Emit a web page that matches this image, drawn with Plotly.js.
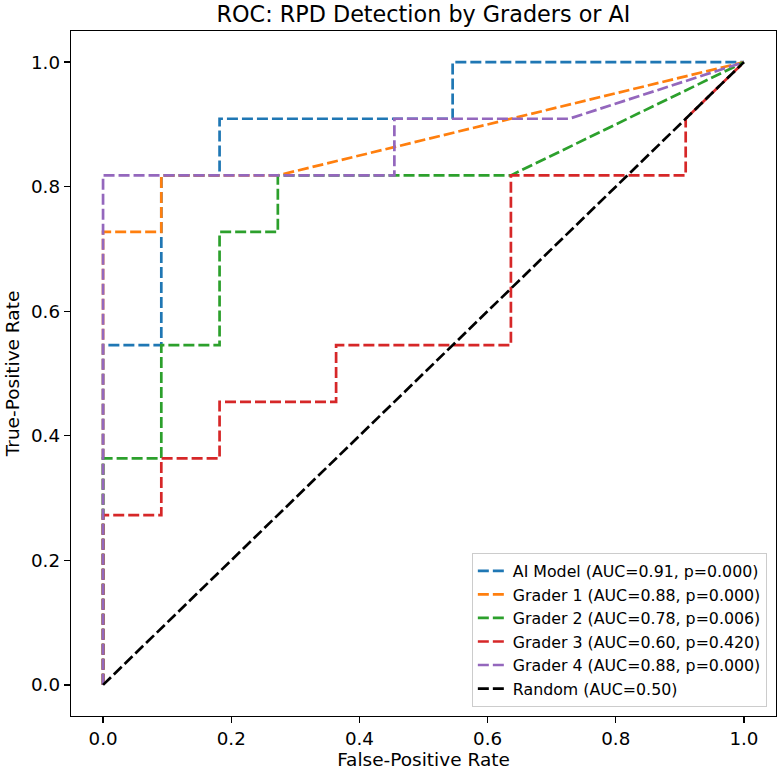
<!DOCTYPE html>
<html>
<head>
<meta charset="utf-8">
<script src="https://cdn.plot.ly/plotly-3.0.1.min.js"></script>
<style>html,body{margin:0;padding:0;background:#fff;}#chart{width:778px;height:771px;}</style>
</head>
<body>
<div id="chart"></div>
<script>
const k = 1 / 11;
const seriesNames = [
  "AI Model (AUC=0.91, p=0.000)",
  "Grader 1 (AUC=0.88, p=0.000)",
  "Grader 2 (AUC=0.78, p=0.006)",
  "Grader 3 (AUC=0.60, p=0.420)",
  "Grader 4 (AUC=0.88, p=0.000)",
  "Random (AUC=0.50)"
];
const seriesColors = ["#1f77b4", "#ff7f0e", "#2ca02c", "#d62728", "#9467bd", "#000000"];

// ROC points (false-positive rate, true-positive rate); 11 negatives, 11 positives
const aiFpr = [0, 0, 1*k, 1*k, 2*k, 2*k, 6*k, 6*k, 1];
const aiTpr = [0, 6*k, 6*k, 9*k, 9*k, 10*k, 10*k, 1, 1];

const g1Fpr = [0, 0, 1*k, 1*k, 3*k, 1];
const g1Tpr = [0, 8*k, 8*k, 9*k, 9*k, 1];

const g2Fpr = [0, 0, 1*k, 1*k, 2*k, 2*k, 3*k, 3*k, 7*k, 1];
const g2Tpr = [0, 4*k, 4*k, 6*k, 6*k, 8*k, 8*k, 9*k, 9*k, 1];

const g3Fpr = [0, 0, 1*k, 1*k, 2*k, 2*k, 4*k, 4*k, 7*k, 7*k, 10*k, 10*k, 1];
const g3Tpr = [0, 3*k, 3*k, 4*k, 4*k, 5*k, 5*k, 6*k, 6*k, 9*k, 9*k, 10*k, 1];

const g4Fpr = [0, 0, 5*k, 5*k, 8*k, 1];
const g4Tpr = [0, 9*k, 9*k, 10*k, 10*k, 1];

const randFpr = [0, 1];
const randTpr = [0, 1];

const xs = [aiFpr, g1Fpr, g2Fpr, g3Fpr, g4Fpr, randFpr];
const ys = [aiTpr, g1Tpr, g2Tpr, g3Tpr, g4Tpr, randTpr];

const font = "DejaVu Sans, sans-serif";
const traces = xs.map((x, i) => ({
  x: x, y: ys[i], type: "scatter", mode: "lines", name: seriesNames[i],
  line: {color: seriesColors[i], width: 2.7, dash: "11px,4px"},
  hoverinfo: "skip"
}));

const tickVals = [0, 0.2, 0.4, 0.6, 0.8, 1.0];
const tickText = ["0.0", "0.2", "0.4", "0.6", "0.8", "1.0"];
const axisCommon = {
  range: [-0.05, 1.05], showgrid: false, zeroline: false,
  showline: true, linecolor: "#000", linewidth: 1.3, mirror: true,
  ticks: "outside", ticklen: 6, tickwidth: 1.3, tickcolor: "#000",
  tickvals: tickVals, ticktext: tickText,
  tickfont: {family: font, size: 18.3, color: "#000"}
};

const layout = {
  width: 778, height: 771,
  margin: {l: 71, r: 2, t: 31, b: 55},
  paper_bgcolor: "#fff", plot_bgcolor: "#fff",
  title: {text: "ROC: RPD Detection by Graders or AI", font: {family: font, size: 22.3, color: "#000"},
          xref: "paper", x: 0.5, xanchor: "center", yref: "container", y: 0.982, yanchor: "middle"},
  xaxis: Object.assign({}, axisCommon, {title: {text: "False-Positive Rate", font: {family: font, size: 18.5, color: "#000"}, standoff: 4}}),
  yaxis: Object.assign({}, axisCommon, {title: {text: "True-Positive Rate", font: {family: font, size: 18.5, color: "#000"}, standoff: 6}}),
  showlegend: true,
  legend: {x: 0.987, y: 0.013, xanchor: "right", yanchor: "bottom",
           bgcolor: "rgba(255,255,255,0.8)", bordercolor: "#cccccc", borderwidth: 1,
           font: {family: font, size: 15.8, color: "#000"}, itemwidth: 30, tracegroupgap: 0}
};

Plotly.newPlot("chart", traces, layout, {displayModeBar: false, staticPlot: true});
</script>
</body>
</html>
